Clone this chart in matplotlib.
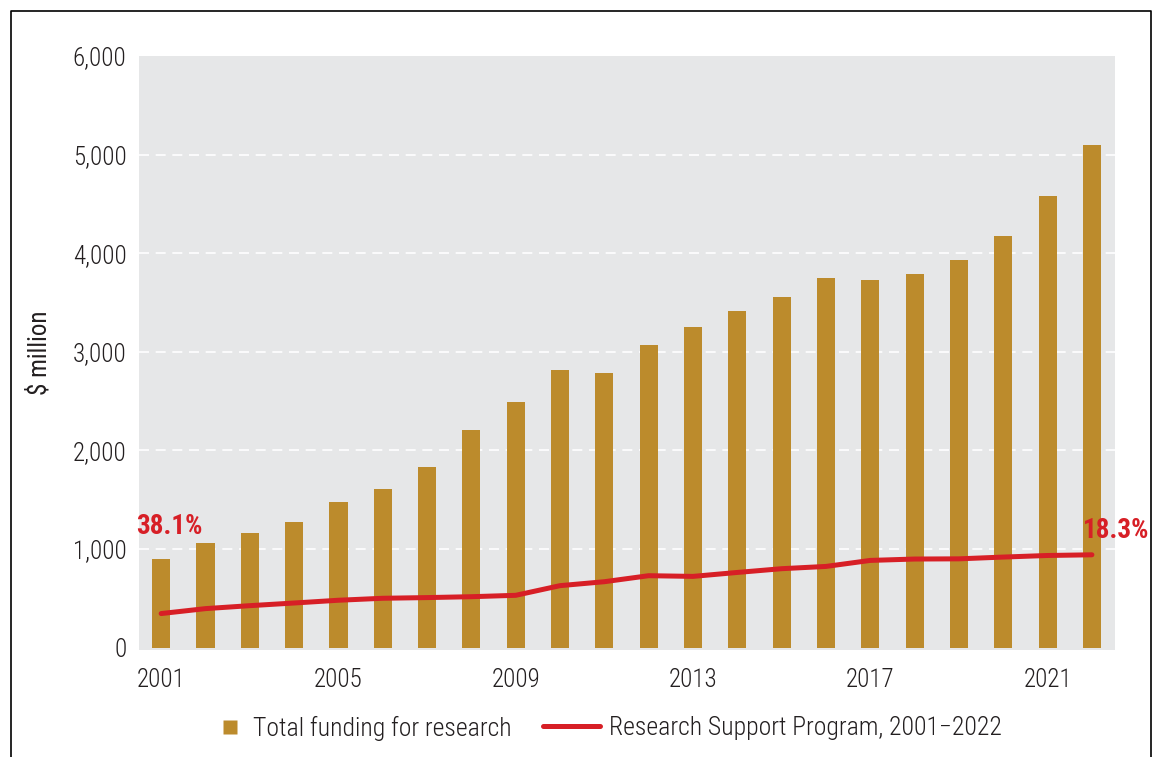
import matplotlib
matplotlib.use("Agg")
import matplotlib.pyplot as plt
from matplotlib import font_manager
from matplotlib.lines import Line2D

years = list(range(2001, 2023))
total_funding = [900, 1060, 1165, 1275, 1480, 1610, 1830, 2205, 2490, 2815,
                 2785, 3065, 3250, 3410, 3560, 3745, 3725, 3785, 3935, 4170,
                 4585, 5100]
rsp_funding = [345, 395, 425, 452, 480, 500, 507, 516, 530, 628,
               668, 729, 722, 762, 800, 823, 884, 898, 900, 918,
               934, 941]
xtick_years = [2001, 2005, 2009, 2013, 2017, 2021]
yticks = [0, 1000, 2000, 3000, 4000, 5000, 6000]
start_label = "38.1%"
end_label = "18.3%"
bar_label = "Total funding for research"
line_label = "Research Support Program, 2001\u22122022"

available = {f.name for f in font_manager.fontManager.ttflist}
family = "Roboto"
for cand in ["Roboto Condensed", "Liberation Sans Narrow", "Roboto"]:
    if cand in available:
        family = cand
        break
plt.rcParams["font.family"] = [family, "DejaVu Sans"]
plt.rcParams["font.weight"] = "light"

GOLD = "#BC8B2C"
RED = "#D71F26"
BG = "#E6E7E8"
TXT = "#231F20"
FS = 18
LFS = 18.5
AFS = 19.5

fig = plt.figure(figsize=(11.63, 7.57), dpi=100)
ax = fig.add_axes([0.1195, 0.1413, 0.9587 - 0.1195, 0.926 - 0.1413])
ax.set_facecolor(BG)
for s in ax.spines.values():
    s.set_visible(False)

ax.set_xlim(2000.5, 2022.52)
ax.set_ylim(-25, 6000)

for y in yticks[1:-1]:
    ax.axhline(y, color="white", lw=1.2, ls=(0, (6, 4)), zorder=1)

ax.bar(years, total_funding, width=0.41, color=GOLD, zorder=2)
ax.plot(years, rsp_funding, color=RED, lw=3.6, solid_capstyle="round",
        solid_joinstyle="round", zorder=3)

ax.set_yticks(yticks)
ax.set_yticklabels([f"{v:,}" for v in yticks])
ax.set_xticks(xtick_years)
ax.set_xticklabels([str(y) for y in xtick_years])
ax.tick_params(axis="both", length=0, labelsize=FS, colors=TXT)
ax.tick_params(axis="y", pad=9)
ax.tick_params(axis="x", pad=13)
ax.set_ylabel("\\$ million", fontsize=FS, color=TXT, labelpad=15)

ax.text(years[0] - 0.57, 1230, start_label, fontsize=AFS, fontweight="bold",
        color=RED, ha="left", va="center")
ax.text(years[-1] - 0.2, 1190, end_label, fontsize=AFS, fontweight="bold",
        color=RED, ha="left", va="center", clip_on=False)

h_bar = Line2D([0], [0], marker="s", ls="none", markersize=10,
               markerfacecolor=GOLD, markeredgecolor="none", label=bar_label)
h_line = Line2D([0], [0], color=RED, lw=3.6, solid_capstyle="round",
                label=line_label)
fig.legend(handles=[h_bar], loc="center left",
           bbox_to_anchor=(217 / 1163, 1 - 728 / 757), frameon=False,
           fontsize=LFS, handlelength=1.0, handletextpad=0.4,
           labelcolor=TXT, borderpad=0, borderaxespad=0)
fig.legend(handles=[h_line], loc="center left",
           bbox_to_anchor=(543 / 1163, 1 - 728 / 757), frameon=False,
           fontsize=LFS, handlelength=2.2, handletextpad=0.35,
           labelcolor=TXT, borderpad=0, borderaxespad=0)

# outer frame (left, top, right)
W, H = 1163, 757
fx = [11 / W, 11 / W, 1151 / W, 1151 / W]
fy = [0, 1 - 11 / H, 1 - 11 / H, 0]
fig.add_artist(Line2D(fx, fy, transform=fig.transFigure, color="black", lw=1.2))

fig.savefig("out.png", dpi=100)
